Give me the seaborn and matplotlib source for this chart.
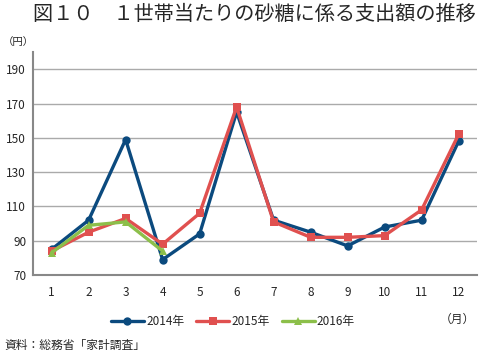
import pandas as pd
import seaborn as sns
import matplotlib.pyplot as plt
from matplotlib.ticker import FixedLocator

months = list(range(1, 13))
y2014 = [85, 102, 149, 79, 94, 165, 102, 95, 87, 98, 102, 148]
y2015 = [84, 95, 103, 88, 106, 168, 101, 92, 92, 93, 108, 152]
y2016 = [83, 99, 101, 84]
years = ["2014年", "2015年", "2016年"]

rows = []
for yr, vals in zip(years, [y2014, y2015, y2016]):
    for m, v in zip(months, vals):
        rows.append({"month": m, "value": v, "year": yr})
df = pd.DataFrame(rows)

sns.set_style("white")
plt.rcParams['font.family'] = ['Noto Sans CJK JP', 'DejaVu Sans']

palette = {"2014年": "#0b4a7e", "2015年": "#e0504f", "2016年": "#8cbf4a"}
markers = {"2014年": "o", "2015年": "s", "2016年": "^"}

fig = plt.figure(figsize=(4.8, 3.54), dpi=100)
ax = fig.add_axes([0.069, 0.223, 0.925, 0.630])

sns.lineplot(data=df, x="month", y="value", hue="year", style="year",
             palette=palette, markers=markers, dashes=False, linewidth=2.4,
             markersize=6, markeredgewidth=0, ax=ax)

ax.set_xlim(0.5, 12.5)
ax.set_ylim(70, 200)
ax.set_yticks(range(70, 200, 20))
ax.set_xticks(months)
ax.xaxis.set_minor_locator(FixedLocator([m + 0.5 for m in range(0, 13)]))
ax.tick_params(axis='x', which='major', length=0, labelsize=8.5, pad=8)
ax.tick_params(axis='x', which='minor', length=4, width=1, color='#888888', direction='out')
ax.tick_params(axis='y', length=3, width=1, color='#888888', labelsize=8.5, pad=2)
ax.grid(axis='y', color='#aaaaaa', linewidth=1)
ax.set_axisbelow(True)
for s in ['top', 'right']:
    ax.spines[s].set_visible(False)
for s in ['left', 'bottom']:
    ax.spines[s].set_color('#888888')
    ax.spines[s].set_linewidth(1.5)
ax.set_xlabel("")
ax.set_ylabel("")

ax.legend(loc='upper center', bbox_to_anchor=(0.45, -0.13), ncol=3, frameon=False,
          fontsize=8.5, handlelength=2.8, columnspacing=1.0, handletextpad=0.2)

fig.text(0.53, 0.958, "図１０　１世帯当たりの砂糖に係る支出額の推移", ha='center', va='center',
         fontsize=14.5)
fig.text(0.005, 0.882, "（円）", ha='left', va='center', fontsize=7.5)
fig.text(0.99, 0.098, "（月）", ha='right', va='center', fontsize=8.5)
fig.text(0.01, 0.025, "資料：総務省「家計調査」", ha='left', va='center', fontsize=8.5)

plt.savefig("out.png", dpi=100)
